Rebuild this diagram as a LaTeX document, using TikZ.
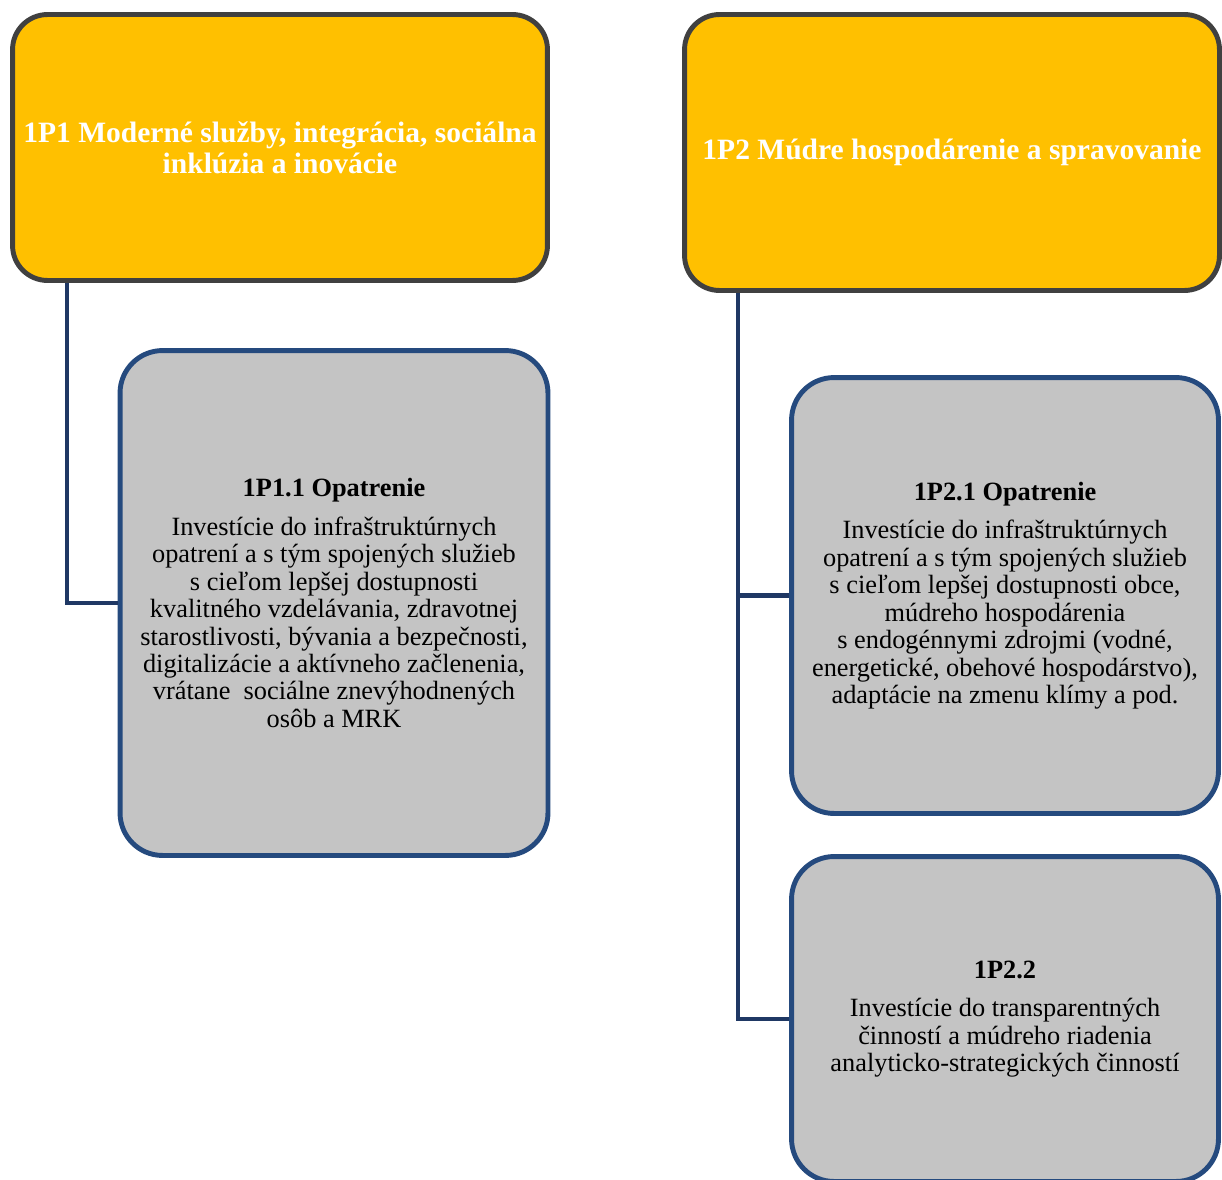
\documentclass[tikz,border=0pt]{standalone}
\usepackage{fontspec}
\setmainfont{Liberation Serif}
\usetikzlibrary{calc}
\definecolor{zlta}{HTML}{FFC000}
\definecolor{seda}{HTML}{C4C4C4}
\definecolor{modra}{HTML}{254A7E}
\definecolor{linka}{HTML}{1F3864}
\definecolor{tmava}{HTML}{404040}
\tikzset{
prioritybox/.style={draw=tmava, line width=2.8pt, fill=zlta, rounded corners=0.7cm,
  align=center, text=white, font=\fontsize{16.8}{17.6}\selectfont\bfseries},
measurebox/.style={draw=modra, line width=2.8pt, fill=seda, rounded corners=0.85cm,
  align=center, text=black, font=\fontsize{15}{15.6}\selectfont},
link/.style={draw=linka, line width=2.3pt}
}

\begin{document}
\begin{tikzpicture}[x=0.02cm, y=-0.02cm]
  \useasboundingbox (0,0) rectangle (1222,1179);
  % priorities
  \node[prioritybox, minimum width=10.7cm, minimum height=5.32cm] (p1) at (280,147.5)
    {1P1 Moderné služby, integrácia, sociálna\\inklúzia a inovácie};
  \node[prioritybox, minimum width=10.7cm, minimum height=5.52cm] (p2) at (952,152.5)
    {1P2 Múdre hospodárenie a spravovanie};
  % measures
  \node[measurebox, minimum width=8.56cm, minimum height=10.1cm] (m11) at (334,603)
    {{\bfseries 1P1.1 Opatrenie}\\[6.5pt]
     Investície do infraštruktúrnych\\
     opatrení a s tým spojených služieb\\
     s cieľom lepšej dostupnosti\\
     kvalitného vzdelávania, zdravotnej\\
     starostlivosti, bývania a bezpečnosti,\\
     digitalizácie a aktívneho začlenenia,\\
     vrátane~ sociálne znevýhodnených\\
     osôb a MRK};
  \node[measurebox, minimum width=8.54cm, minimum height=8.72cm] (m21) at (1005,595.5)
    {{\bfseries 1P2.1 Opatrenie}\\[6.5pt]
     Investície do infraštruktúrnych\\
     opatrení a s tým spojených služieb\\
     s cieľom lepšej dostupnosti obce,\\
     múdreho hospodárenia\\
     s endogénnymi zdrojmi (vodné,\\
     energetické, obehové hospodárstvo),\\
     adaptácie na zmenu klímy a pod.};
  \node[measurebox, minimum width=8.54cm, minimum height=6.5cm] (m22) at (1005,1019)
    {{\bfseries 1P2.2}\\[6.5pt]
     Investície do transparentných\\
     činností a múdreho riadenia\\
     analyticko-strategických činností};
  % connectors
  \draw[link] ($(p1.south west)+(57,0)$) |- (m11);
  \draw[link] ($(p2.south west)+(56,0)$) |- (m22);
  \draw[link] ($(p2.south west)+(56,0)$) |- (m21);
\end{tikzpicture}
\end{document}
